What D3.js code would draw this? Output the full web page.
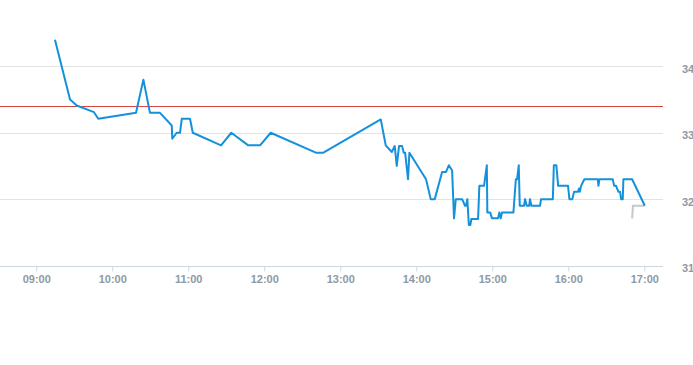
<!DOCTYPE html>
<html><head><meta charset="utf-8">
<script src="https://cdn.jsdelivr.net/npm/d3@7"></script>
<style>html,body{margin:0;padding:0;background:#fff;}svg{display:block;}</style>
</head><body>
<svg id="chart" width="693" height="365"></svg>
<script>
const mainTimes = ["09:14:48","09:26:42","09:32:00","09:45:36","09:49:00","10:18:48","10:24:36","10:29:48","10:37:42","10:47:00","10:47:24","10:50:54","10:53:30","10:54:54","11:01:24","11:03:36","11:25:54","11:34:00","11:47:24","11:56:42","12:05:06","12:40:42","12:46:42","13:32:00","13:35:54","13:40:42","13:43:00","13:44:36","13:46:24","13:48:48","13:50:06","13:51:12","13:53:30","13:54:36","14:07:42","14:11:24","14:14:36","14:20:24","14:23:30","14:25:42","14:28:18","14:29:48","14:31:12","14:36:12","14:38:30","14:39:18","14:40:18","14:41:30","14:42:42","14:43:30","14:48:48","14:49:48","14:53:30","14:55:42","14:56:06","14:58:18","14:59:48","15:04:36","15:05:36","15:06:42","15:07:42","15:16:42","15:18:36","15:19:36","15:20:54","15:21:42","15:25:06","15:25:54","15:27:12","15:29:06","15:29:48","15:30:54","15:37:42","15:38:30","15:47:48","15:48:36","15:50:36","15:52:00","15:59:48","16:00:54","16:03:12","16:04:36","16:07:42","16:08:30","16:09:06","16:10:06","16:12:42","16:23:18","16:23:48","16:24:36","16:35:06","16:36:12","16:37:42","16:39:36","16:40:54","16:41:42","16:43:00","16:43:30","16:50:24","17:00:24"];
const mainValues = [34.40,33.50,33.41,33.31,33.21,33.30,33.80,33.30,33.30,33.11,32.91,33.00,33.00,33.21,33.21,33.00,32.81,33.00,32.81,32.81,33.00,32.70,32.70,33.20,32.81,32.71,32.80,32.50,32.80,32.80,32.70,32.70,32.30,32.70,32.30,32.00,32.00,32.41,32.41,32.51,32.43,31.71,32.00,32.00,31.90,31.90,32.00,31.61,31.61,31.70,31.70,32.20,32.20,32.51,31.80,31.80,31.71,31.71,31.80,31.71,31.80,31.80,32.30,32.30,32.51,31.90,31.90,32.00,31.90,31.90,32.00,31.90,31.90,32.00,32.00,32.51,32.51,32.20,32.20,32.00,32.00,32.11,32.11,32.16,32.11,32.20,32.30,32.30,32.20,32.30,32.30,32.20,32.20,32.11,32.11,32.00,32.00,32.30,32.30,31.90];
const greyTimes = ["16:50:24","16:51:00","17:00:24"];
const greyValues = [31.71,31.90,31.90];
const refValue = 33.40;
const xTickLabels = ["09:00","10:00","11:00","12:00","13:00","14:00","15:00","16:00","17:00"];
const yTicks = [31,32,33,34];
const xDomain = ["08:31:25","17:14:46"];
const yDomain = [31,35];

const parse = d3.timeParse("%H:%M:%S");
const parseHM = d3.timeParse("%H:%M");
const svg = d3.select("#chart");
const W = 663, H = 265.5;
const x = d3.scaleTime().domain(xDomain.map(parse)).range([0, W]);
const y = d3.scaleLinear().domain(yDomain).range([H, 0]);

// gridlines
svg.append("g").selectAll("line").data(yTicks.filter(d=>d!==31)).join("line")
  .attr("x1",0).attr("x2",W).attr("y1",d=>Math.round(y(d))+0.5).attr("y2",d=>Math.round(y(d))+0.5)
  .attr("stroke","#e3e3e3").attr("stroke-width",1);

// y labels (right)
svg.append("g").selectAll("text").data(yTicks).join("text")
  .attr("x",682).attr("y",d=>y(d)+6.5)
  .attr("font-family","Liberation Sans, Arial, sans-serif").attr("font-size",11)
  .attr("font-weight","bold").attr("fill","#8e99a4").text(d=>d);

// x axis
const xAxis = d3.axisBottom(x).tickValues(xTickLabels.map(parseHM)).tickFormat(d3.timeFormat("%H:%M")).tickSize(5).tickSizeOuter(0);
const gx = svg.append("g").attr("transform",`translate(0,${Math.round(H)+0.5})`).call(xAxis);
gx.select(".domain").attr("stroke","#ccd6e0").attr("d",`M0,0H${W}`);
gx.selectAll(".tick line").attr("stroke","#ccd6e0");
gx.selectAll(".tick text").attr("font-family","Liberation Sans, Arial, sans-serif").attr("font-size",11)
  .attr("font-weight","bold").attr("fill","#8e99a4").attr("dy","0.9em").attr("y",7);

// reference line
svg.append("line").attr("x1",0).attr("x2",W).attr("y1",Math.round(y(refValue))+0.5).attr("y2",Math.round(y(refValue))+0.5)
  .attr("stroke","#d8463f").attr("stroke-width",1);

const line = d3.line().x(d=>x(d[0])).y(d=>y(d[1]));
svg.append("path").datum(greyTimes.map((t,i)=>[parse(t),greyValues[i]]))
  .attr("d",line).attr("fill","none").attr("stroke","#c4c8cc").attr("stroke-width",2);
svg.append("path").datum(mainTimes.map((t,i)=>[parse(t),mainValues[i]]))
  .attr("d",line).attr("fill","none").attr("stroke","#1591dc").attr("stroke-width",2).attr("stroke-linejoin","round");
</script>
</body></html>
